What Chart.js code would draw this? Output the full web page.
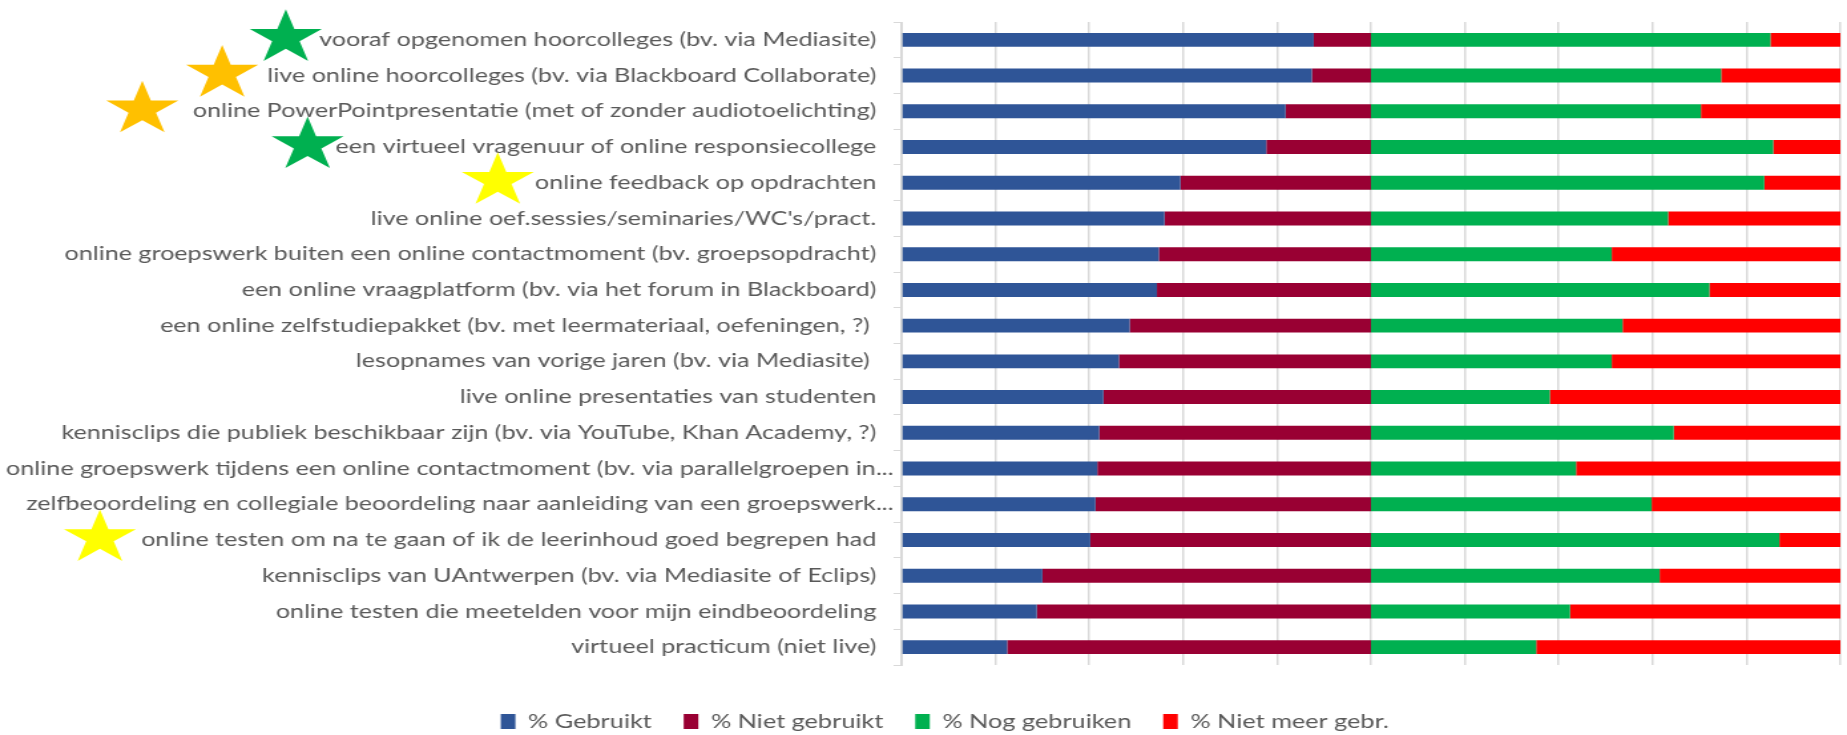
<!DOCTYPE html>
<html>
<head>
<meta charset="utf-8">
<script src="https://cdn.jsdelivr.net/npm/chart.js@4.4.1/dist/chart.umd.min.js"></script>
<style>
  html, body { margin: 0; padding: 0; background: #fff; overflow: hidden; }
</style>
</head>
<body>
<!-- the original picture is an Excel chart stretched sideways, so the canvas is drawn narrower and scaled up -->
<canvas id="myChart" width="1389" height="735" style="width:1847px;height:735px"></canvas>
<script>
const categorieen = [
  "vooraf opgenomen hoorcolleges (bv. via Mediasite)",
  "live online hoorcolleges (bv. via Blackboard Collaborate)",
  "online PowerPointpresentatie (met of zonder audiotoelichting)",
  "een virtueel vragenuur of online responsiecollege",
  "online feedback op opdrachten",
  "live online oef.sessies/seminaries/WC's/pract.",
  "online groepswerk buiten een online contactmoment (bv. groepsopdracht)",
  "een online vraagplatform (bv. via het forum in Blackboard)",
  "een online zelfstudiepakket (bv. met leermateriaal, oefeningen, ?) ",
  "lesopnames van vorige jaren (bv. via Mediasite) ",
  "live online presentaties van studenten",
  "kennisclips die publiek beschikbaar zijn (bv. via YouTube, Khan Academy, ?)",
  "online groepswerk tijdens een online contactmoment (bv. via parallelgroepen in...",
  "zelfbeoordeling en collegiale beoordeling naar aanleiding van een groepswerk...",
  "online testen om na te gaan of ik de leerinhoud goed begrepen had",
  "kennisclips van UAntwerpen (bv. via Mediasite of Eclips)",
  "online testen die meetelden voor mijn eindbeoordeling",
  "virtueel practicum (niet live)",
];
const reeksen = ["% Gebruikt", "% Niet gebruikt", "% Nog gebruiken", "% Niet meer gebr."];

// left half (0-100): used / not used, right half (100-200): still use / no longer use
const gebruikt =     [87.8, 87.4, 81.8, 77.7, 59.4, 56.0, 54.8, 54.4, 48.6, 46.3, 43.0, 42.1, 41.7, 41.3, 40.2, 30.0, 28.8, 22.5];
const nietGebruikt = [12.2, 12.6, 18.2, 22.3, 40.6, 44.0, 45.2, 45.6, 51.4, 53.7, 57.0, 57.9, 58.3, 58.7, 59.8, 70.0, 71.2, 77.5];
const nogGebruiken = [85.1, 74.6, 70.3, 85.7, 83.8, 63.3, 51.3, 72.1, 53.6, 51.3, 38.1, 64.5, 43.7, 59.8, 87.0, 61.5, 42.4, 35.2];
const nietMeer =     [14.9, 25.4, 29.7, 14.3, 16.2, 36.7, 48.7, 27.9, 46.4, 48.7, 61.9, 35.5, 56.3, 40.2, 13.0, 38.5, 57.6, 64.8];

const kleuren = ["#2F5597", "#990033", "#00B050", "#FF0000"];
const grijs = "#D9D9D9";
const tekst = "#595959";
const lettertype = { family: "Lato", size: 18.9 };
const legendaLetter = { family: "Lato", size: 19 };
const tickLengte = 6;
const labelAfstand = 13;

// stars next to some labels: row, colour, distance left of the label
const sterren = [
  { rij: 0, kleur: "#00B050", dx: 25 },
  { rij: 1, kleur: "#FFC000", dx: 34 },
  { rij: 2, kleur: "#FFC000", dx: 38 },
  { rij: 3, kleur: "#00B050", dx: 21 },
  { rij: 4, kleur: "#FFFF00", dx: 28 },
  { rij: 14, kleur: "#FFFF00", dx: 31 },
];

function ster(ctx, cx, cy, r, kleur) {
  const ri = r * 0.382;
  ctx.beginPath();
  for (let i = 0; i < 10; i++) {
    const rad = i % 2 === 0 ? r : ri;
    const a = -Math.PI / 2 + i * Math.PI / 5;
    const px = cx + rad * Math.cos(a);
    const py = cy + rad * Math.sin(a);
    if (i === 0) ctx.moveTo(px, py); else ctx.lineTo(px, py);
  }
  ctx.closePath();
  ctx.fillStyle = kleur;
  ctx.fill();
}

// category labels drawn by hand: Excel lets the cut-off ("...") labels run closer to the axis
const labelPlugin = {
  id: "labels",
  afterDraw(chart) {
    const ctx = chart.ctx;
    const y = chart.scales.y;
    const rechts = y.right - tickLengte - labelAfstand;
    ctx.save();
    ctx.font = Chart.helpers.toFont(lettertype).string;
    ctx.fillStyle = tekst;
    ctx.textAlign = "right";
    ctx.textBaseline = "middle";
    categorieen.forEach((lab, i) => {
      const x = lab.endsWith("...") ? rechts + 13 : rechts;
      ctx.fillText(lab, x, y.getPixelForValue(i));
    });
    sterren.forEach(s => {
      const w = ctx.measureText(categorieen[s.rij]).width;
      ster(ctx, rechts - w - s.dx, y.getPixelForValue(s.rij) - 2, 28.5, s.kleur);
    });
    ctx.restore();
  }
};

const ctx = document.getElementById("myChart");
const reeksData = [gebruikt, nietGebruikt, nogGebruiken, nietMeer];

const myChart = new Chart(ctx, {
  type: "bar",
  data: {
    labels: categorieen,
    datasets: reeksen.map((naam, i) => ({
      label: naam,
      data: reeksData[i],
      backgroundColor: kleuren[i],
      borderWidth: 0,
      barPercentage: 0.39,
      categoryPercentage: 1,
    })),
  },
  options: {
    indexAxis: "y",
    responsive: false,
    devicePixelRatio: 1,
    animation: false,
    layout: { padding: { top: 22, left: 37, right: 5, bottom: 0 } },
    scales: {
      x: {
        stacked: true,
        min: 0,
        max: 200,
        ticks: { display: false, stepSize: 20 },
        grid: { color: grijs, lineWidth: 1.5, drawTicks: false },
        border: { display: false },
        afterFit: s => { s.height = 23; },
      },
      y: {
        stacked: true,
        ticks: { display: false, autoSkip: false },
        grid: { offset: true, drawOnChartArea: false, color: grijs, tickLength: tickLengte },
        border: { color: grijs },
        afterFit: s => { s.width = 641; },
      },
    },
    plugins: {
      legend: {
        position: "bottom",
        maxHeight: 47,
        labels: { color: tekst, font: legendaLetter, boxWidth: 11, boxHeight: 15, padding: 24 },
      },
      tooltip: { enabled: false },
    },
  },
  plugins: [labelPlugin],
});
</script>
</body>
</html>
